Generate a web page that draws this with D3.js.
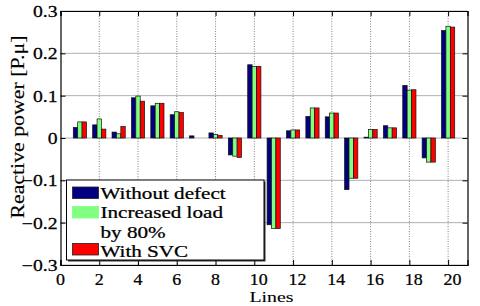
<!DOCTYPE html>
<html><head><meta charset="utf-8">
<script src="https://cdn.jsdelivr.net/npm/d3@7"></script>
<style>body{margin:0;background:#fff}svg{display:block}text{font-family:"Liberation Serif","DejaVu Serif",serif}</style>
</head><body>
<script>
const lines = d3.range(1, 21);
const withoutDefect = [0.025, 0.031, 0.014, 0.095, 0.076, 0.055, 0.005, 0.012, -0.040, 0.173, -0.205, 0.017, 0.051, 0.050, -0.122, 0.002, 0.029, 0.124, -0.047, 0.254];
const increasedLoad = [0.038, 0.045, 0.010, 0.099, 0.082, 0.062, 0.000, 0.008, -0.043, 0.169, -0.214, 0.019, 0.071, 0.059, -0.095, 0.020, 0.024, 0.113, -0.057, 0.264];
const withSVC       = [0.038, 0.021, 0.027, 0.087, 0.082, 0.060, 0.000, 0.006, -0.046, 0.169, -0.214, 0.019, 0.071, 0.059, -0.095, 0.020, 0.024, 0.114, -0.057, 0.262];
const seriesNames = ["Without defect", "Increased load|by 80%", "With SVC"];
const xTicks = [0, 2, 4, 6, 8, 10, 12, 14, 16, 18, 20];
const yTicks = [-0.3, -0.2, -0.1, 0, 0.1, 0.2, 0.3];

const colors = ["#000080", "#80ff80", "#ff0000"];
const series = [withoutDefect, increasedLoad, withSVC];

const W = 480, H = 306;
const svg = d3.select("body").append("svg").attr("width", W).attr("height", H);
const x = d3.scaleLinear().domain([0, 21]).range([60.5, 467.5]);
const y = d3.scaleLinear().domain([-0.3, 0.3]).range([265, 11]);

function sText(g, txt, px, py, size, sx, anchor, sw) {
  return g.append("g").attr("transform", `translate(${px},${py}) scale(${sx},1)`)
    .append("text").attr("x", 0).attr("y", 0)
    .attr("font-size", size).attr("fill", "#000").attr("stroke", "#000").attr("stroke-width", sw == null ? 0.25 : sw)
    .attr("text-anchor", anchor || "start").text(txt);
}

// grid
svg.append("g").selectAll("line").data(yTicks).join("line")
  .attr("x1", x(0)).attr("x2", x(21)).attr("y1", d => y(d)).attr("y2", d => y(d))
  .attr("stroke", "#b0b0b0").attr("stroke-width", 1);
svg.append("g").selectAll("line").data(xTicks.filter(d => d > 0)).join("line")
  .attr("x1", d => x(d)).attr("x2", d => x(d)).attr("y1", y(0.3)).attr("y2", y(-0.3))
  .attr("stroke", "#808080").attr("stroke-width", 1).attr("stroke-dasharray", "1,1.5");

// bars
const bw = 0.227;
series.forEach((s, k) => {
  svg.append("g").selectAll("rect").data(s).join("rect")
    .attr("x", (d, i) => x(lines[i] + (k - 1.5) * bw))
    .attr("width", x(bw) - x(0))
    .attr("y", d => y(Math.max(0, d)))
    .attr("height", d => Math.abs(y(d) - y(0)))
    .attr("fill", colors[k]).attr("stroke", "#111").attr("stroke-width", 0.7);
});

// axes via d3
const xAxisB = d3.axisBottom(x).tickValues(xTicks).tickSize(-5).tickFormat("");
const xAxisT = d3.axisTop(x).tickValues(xTicks).tickSize(-5).tickFormat("");
const yAxisL = d3.axisLeft(y).tickValues(yTicks).tickSize(-5).tickFormat("");
const yAxisR = d3.axisRight(y).tickValues(yTicks).tickSize(-5).tickFormat("");
[[xAxisB, `translate(0,${y(-0.3)})`], [xAxisT, `translate(0,${y(0.3)})`],
 [yAxisL, `translate(${x(0)},0)`], [yAxisR, `translate(${x(21)},0)`]].forEach(([a, tr]) => {
  const g = svg.append("g").attr("transform", tr).call(a);
  g.select(".domain").attr("stroke", "#000").attr("stroke-width", 1.2);
  g.selectAll(".tick line").attr("stroke", "#000");
});

// tick labels
const tl = svg.append("g");
xTicks.forEach(t => sText(tl, String(t), x(t) - 4.5, 284.5, 16, 1.12, "start"));
yTicks.forEach(t => sText(tl, t === 0 ? "0" : d3.format(".1f")(t), 57.5, y(t) + 6, 16, 1.23, "end"));

// axis titles
sText(svg, "Lines", 271.5, 302, 15.5, 1.28, "middle", 0.1);
svg.append("text").attr("transform", `translate(24,127) rotate(-90)`)
  .attr("font-size", 18).attr("text-anchor", "middle").attr("stroke", "#000").attr("stroke-width", 0.15)
  .attr("textLength", 183).attr("lengthAdjust", "spacingAndGlyphs").text("Reactive power [P.\u03bc]");

// legend
const lg = svg.append("g");
const lx0 = 66.5, ly0 = 180, lx1 = 264, ly1 = 260;
lg.append("rect").attr("x", lx0 + 1.5).attr("y", ly0 + 1.5).attr("width", lx1 - lx0).attr("height", ly1 - ly0).attr("fill", "#333");
lg.append("rect").attr("x", lx0).attr("y", ly0).attr("width", lx1 - lx0).attr("height", ly1 - ly0)
  .attr("fill", "#fff").attr("stroke", "#000").attr("stroke-width", 1);
const swY = [187, 206.5, 243.5];
const txY = [[199], [217.5, 237.5], [256.5]];
seriesNames.forEach((n, k) => {
  lg.append("rect").attr("x", 72.5).attr("y", swY[k]).attr("width", 26).attr("height", 11.5)
    .attr("fill", colors[k]).attr("stroke", k === 1 ? "#80ff80" : "#222").attr("stroke-width", 0.8);
  n.split("|").forEach((part, j) => sText(lg, part, 100.5, txY[k][j], 16, 1.32, "start"));
});
</script>
</body></html>
